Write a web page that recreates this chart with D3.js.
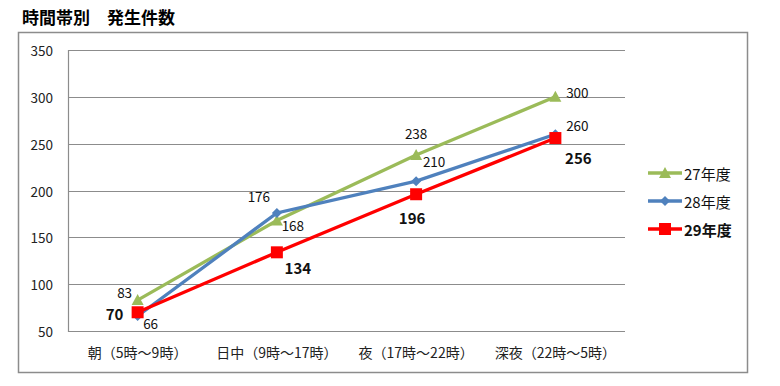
<!DOCTYPE html>
<html>
<head>
<meta charset="utf-8">
<script src="https://cdn.jsdelivr.net/npm/d3@7"></script>
<style>
  body { margin: 0; background: #fff; }
  svg text { font-family: "Noto Sans CJK JP", "Noto Sans", sans-serif; }
</style>
</head>
<body>
<div id="chart"></div>
<script>
// data
var categories = ["朝（5時～9時）", "日中（9時～17時）", "夜（17時～22時）", "深夜（22時～5時）"];
var seriesNames = ["27年度", "28年度", "29年度"];
var values27 = [83, 168, 238, 300];
var values28 = [66, 176, 210, 260];
var values29 = [70, 134, 196, 256];
var yTicks = [50, 100, 150, 200, 250, 300, 350];

var width = 780,
    height = 386;

// label offsets from each point (dx, dy)
var labelOffsets = [
  [[-13, -8], [16, 5], [0, -22], [22, -5]],
  [[13, 7], [-18, -17], [18, -20], [22, -9]],
  [[-23, 1], [21, 15], [-4, 23], [23, 19]]
];

var series = [
  { name: seriesNames[0], values: values27, color: "#9BBB59", marker: "triangle", bold: false },
  { name: seriesNames[1], values: values28, color: "#4F81BD", marker: "diamond", bold: false },
  { name: seriesNames[2], values: values29, color: "#FF0000", marker: "square", bold: true }
];

var svg = d3.select("#chart")
  .append("svg")
  .attr("width", width)
  .attr("height", height);

// title
svg.append("text")
  .attr("x", 22)
  .attr("y", 24)
  .style("font-size", "17px")
  .style("font-weight", "bold")
  .attr("fill", "#000")
  .text("時間帯別　発生件数");

// outer frame
svg.append("rect")
  .attr("x", 18.5)
  .attr("y", 32.5)
  .attr("width", 729)
  .attr("height", 340)
  .attr("fill", "none")
  .attr("stroke", "#8c8c8c")
  .attr("stroke-width", 1.5);

var x = d3.scalePoint()
  .domain(categories)
  .range([68, 625])
  .padding(0.5);

var y = d3.scaleLinear()
  .domain([50, 350])
  .range([331, 50]);

// grid lines
svg.append("g")
  .selectAll("line")
  .data(yTicks)
  .enter()
  .append("line")
  .attr("x1", 68)
  .attr("x2", 625)
  .attr("y1", function(d) { return Math.round(y(d)) + 0.5; })
  .attr("y2", function(d) { return Math.round(y(d)) + 0.5; })
  .attr("stroke", "#8c8c8c")
  .attr("stroke-width", 1.2);

// left axis line
svg.append("line")
  .attr("x1", 68.5)
  .attr("x2", 68.5)
  .attr("y1", y(350))
  .attr("y2", y(50) + 1)
  .attr("stroke", "#8c8c8c")
  .attr("stroke-width", 1.2);

// y tick labels
svg.append("g")
  .selectAll("text")
  .data(yTicks)
  .enter()
  .append("text")
  .attr("x", 53)
  .attr("y", function(d) { return y(d); })
  .attr("text-anchor", "end")
  .attr("dominant-baseline", "central")
  .style("font-size", "13.5px")
  .attr("fill", "#222")
  .text(function(d) { return d; });

// x category labels
svg.append("g")
  .selectAll("text")
  .data(categories)
  .enter()
  .append("text")
  .attr("x", function(d) { return x(d); })
  .attr("y", 352)
  .attr("text-anchor", "middle")
  .attr("dominant-baseline", "central")
  .style("font-size", "14px")
  .attr("fill", "#222")
  .text(function(d) { return d; });

var line = d3.line()
  .x(function(d, i) { return x(categories[i]); })
  .y(function(d) { return y(d); });

function markerPath(type) {
  if (type === "triangle") return "M0,-6L6,5H-6Z";
  if (type === "diamond") return "M0,-5L5,0L0,5L-5,0Z";
  return "M-6,-6H6V6H-6Z";
}

series.forEach(function(sr, si) {
  var g = svg.append("g");
  g.append("path")
    .datum(sr.values)
    .attr("d", line)
    .attr("fill", "none")
    .attr("stroke", sr.color)
    .attr("stroke-width", 3.3);

  g.selectAll("path.mark")
    .data(sr.values)
    .enter()
    .append("path")
    .attr("class", "mark")
    .attr("transform", function(d, i) { return "translate(" + x(categories[i]) + "," + y(d) + ")"; })
    .attr("d", markerPath(sr.marker))
    .attr("fill", sr.color);
});

// data labels (drawn after all lines)
series.forEach(function(sr, si) {
  svg.append("g")
    .selectAll("text")
    .data(sr.values)
    .enter()
    .append("text")
    .attr("x", function(d, i) { return x(categories[i]) + labelOffsets[si][i][0]; })
    .attr("y", function(d, i) { return y(d) + labelOffsets[si][i][1]; })
    .attr("text-anchor", "middle")
    .attr("dominant-baseline", "central")
    .style("font-size", sr.bold ? "15px" : "13.5px")
    .style("font-weight", sr.bold ? "bold" : "normal")
    .attr("fill", "#111")
    .text(function(d) { return d; });
});

// legend
var legend = svg.selectAll(".legend")
  .data(series)
  .enter()
  .append("g")
  .attr("class", "legend")
  .attr("transform", function(d, i) { return "translate(648," + (173 + i * 28) + ")"; });

legend.append("line")
  .attr("x1", 0)
  .attr("x2", 34)
  .attr("stroke", function(d) { return d.color; })
  .attr("stroke-width", 3.3);

legend.append("path")
  .attr("transform", "translate(17,0)")
  .attr("d", function(d) { return markerPath(d.marker); })
  .attr("fill", function(d) { return d.color; });

legend.append("text")
  .attr("x", 36)
  .attr("y", 0)
  .attr("dominant-baseline", "central")
  .style("font-size", "15px")
  .style("font-weight", function(d) { return d.bold ? "bold" : "normal"; })
  .attr("fill", "#111")
  .text(function(d) { return d.name; });
</script>
</body>
</html>
